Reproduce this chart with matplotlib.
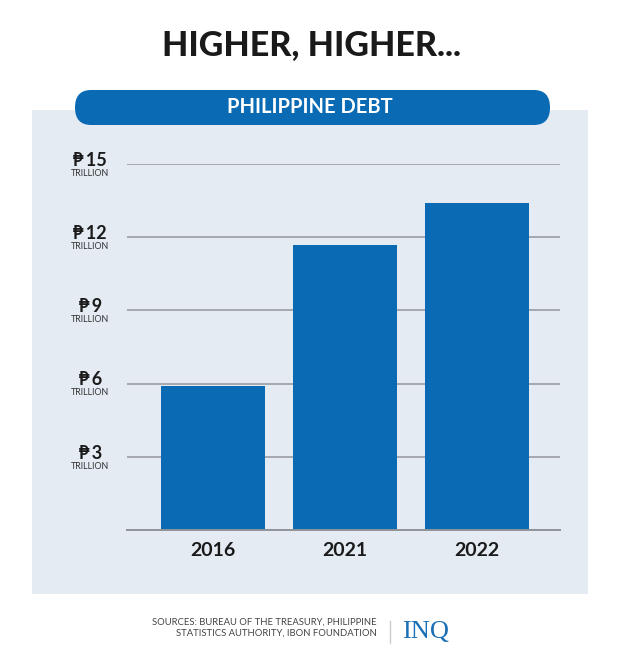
import matplotlib
matplotlib.use('Agg')
import matplotlib.pyplot as plt
import matplotlib.transforms as mtransforms
from matplotlib.patches import Rectangle, FancyBboxPatch

# data (trillion pesos)
years = ['2016', '2021', '2022']
debt = [5.9, 11.7, 13.4]
yticks = [3, 6, 9, 12, 15]
ytick_labels = ['\u20b1\u20093', '\u20b1\u20096', '\u20b1\u20099',
                '\u20b1\u200912', '\u20b1\u200915']

BLUE = '#0a6ab4'
PANEL = '#e4ebf3'
FONT = ['Lato', 'DejaVu Sans']

W, H = 620, 671
fig = plt.figure(figsize=(W / 100, H / 100), dpi=100)
fig.patch.set_facecolor('white')


def fx(px):
    return px / W


def fy(py):
    return 1 - py / H


# light background panel
fig.patches.append(Rectangle((fx(32), fy(594)), fx(588) - fx(32), fy(110) - fy(594),
                             transform=fig.transFigure, facecolor=PANEL,
                             edgecolor='none', zorder=-2))

# header pill
pill_h = fy(90) - fy(125)
fig.patches.append(FancyBboxPatch((fx(75), fy(125)), fx(550) - fx(75), pill_h,
                                  boxstyle='round,pad=0,rounding_size=0.026',
                                  transform=fig.transFigure, facecolor=BLUE,
                                  edgecolor='none', zorder=-1,
                                  mutation_aspect=1))
fig.text(fx(310), fy(107), 'PHILIPPINE DEBT', ha='center', va='center',
         color='white', fontsize=14.5, fontweight='bold', family=FONT)

# title
fig.text(fx(311), fy(46), 'HIGHER, HIGHER...', ha='center', va='center',
         color='#1a1a1a', fontsize=24.5, fontweight='black', family=FONT)

# chart axes
ax = fig.add_axes([fx(127), fy(530), fx(560) - fx(127), fy(164) - fy(530)])
ax.set_facecolor('none')
x = range(len(years))
ax.bar(x, debt, width=0.795, color=BLUE, zorder=3)
ax.set_xlim(-0.6515, 2.629)
ax.set_ylim(0, 15)
for t in yticks:
    ax.axhline(t, color='#9a9ea3', linewidth=1.2, zorder=1)
ax.axhline(0, color='#8f9398', linewidth=1.4, zorder=4, clip_on=False)
for s in ax.spines.values():
    s.set_visible(False)
ax.set_yticks([])
ax.set_xticks(list(x))
ax.set_xticklabels(years, fontsize=14, fontweight='bold', family=FONT,
                   color='#1a1a1a')
ax.tick_params(axis='x', length=0, pad=9)

# y labels: peso value with "TRILLION" underneath
trans = mtransforms.blended_transform_factory(ax.transAxes, ax.transData)
for t, lab in zip(yticks, ytick_labels):
    ax.text(-0.085, t + 0.15, lab, transform=trans, ha='center', va='center',
            fontsize=13, fontweight='bold', family=FONT, color='#1a1a1a')
    ax.text(-0.085, t - 0.38, 'TRILLION', transform=trans, ha='center',
            va='center', fontsize=6.4, family=FONT, color='#333333')

# footer
fig.text(fx(377), fy(628), 'SOURCES: BUREAU OF THE TREASURY, PHILIPPINE\n'
         'STATISTICS AUTHORITY, IBON FOUNDATION', ha='right', va='center',
         fontsize=6.8, family=FONT, color='#444444', linespacing=1.25,
         multialignment='right')
fig.lines.append(plt.Line2D([fx(390), fx(390)], [fy(621), fy(643)],
                            transform=fig.transFigure, color='#cccccc',
                            linewidth=1))
fig.text(fx(402), fy(632), 'INQ', ha='left', va='center', fontsize=19,
         family=['Liberation Serif', 'DejaVu Serif'], color='#1b6fb4')

fig.savefig('out.png', dpi=100)
